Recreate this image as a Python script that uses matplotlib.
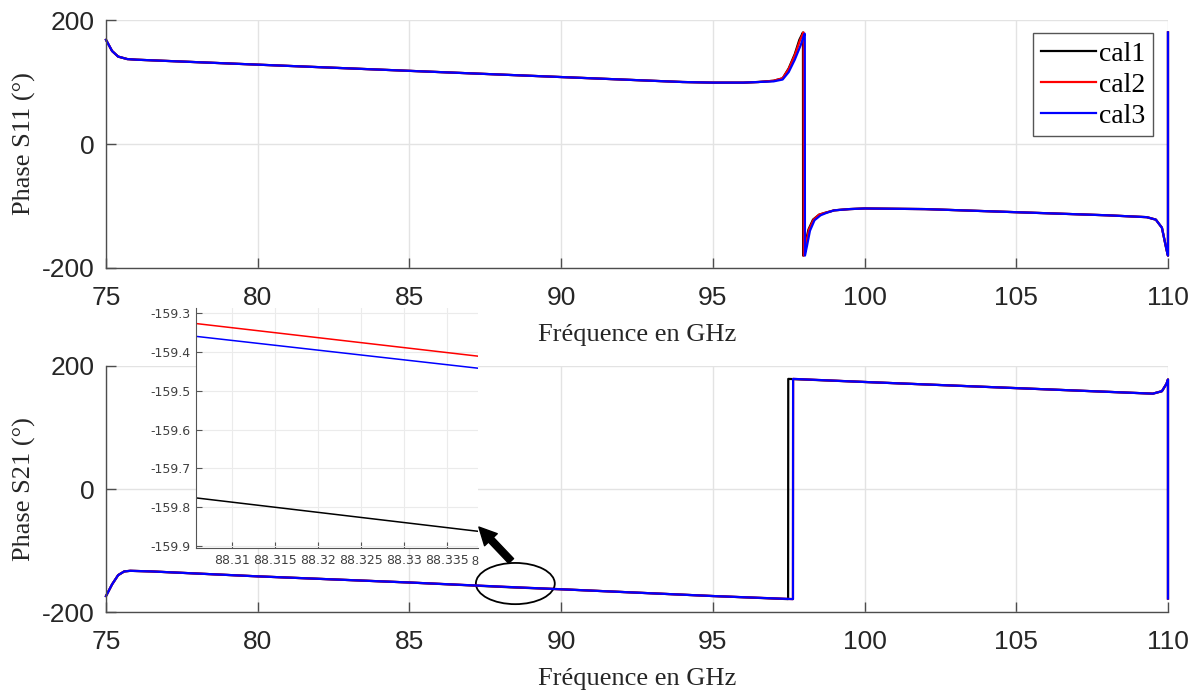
import matplotlib
matplotlib.use("Agg")
from matplotlib import pyplot as plt
from matplotlib.patches import Ellipse, FancyArrowPatch

plt.rcParams["axes.unicode_minus"] = False

## S11 phase, one list per calibration (resonance near 98 GHz)
s11_f_cal1 = [75.0, 75.2, 75.4, 75.7, 76.0, 78, 80, 82, 85, 88, 90, 92, 94, 95, 96, 96.5, 97.0, 97.3,
              97.5, 97.7, 97.85, 97.95, 97.97, 97.975, 98.05, 98.15, 98.3, 98.5, 98.7, 99.0, 99.5,
              100, 102, 105, 108, 109.3, 109.6, 109.8, 109.95, 110.0, 110.0]
s11_cal1 = [168, 150, 141, 137, 136, 132, 128, 124, 118, 112, 108, 104, 100, 99, 99, 100, 102, 106,
            122, 145, 168, 178, 180, -180, -160, -138, -122, -114, -111, -107, -105,
            -104, -105, -110, -115, -118, -122, -135, -170, -180, 180]

s11_f_cal2 = [75.0, 75.2, 75.4, 75.7, 76.0, 78, 80, 82, 85, 88, 90, 92, 94, 95, 96, 96.5, 97.0, 97.3,
              97.5, 97.7, 97.87, 97.97, 97.99, 97.995, 98.07, 98.17, 98.32, 98.5, 98.7, 99.0, 99.5,
              100, 102, 105, 108, 109.3, 109.6, 109.8, 109.95, 110.0, 110.0]
s11_cal2 = [168, 150, 141, 137, 136, 132, 128, 124, 118, 112, 108, 104, 100, 99, 99, 100, 102, 106,
            121, 143, 167, 178, 180, -180, -160, -138, -122, -114, -111, -107, -105,
            -104, -105, -110, -115, -118, -122, -135, -170, -180, 180]

s11_f_cal3 = [75.0, 75.2, 75.4, 75.7, 76.0, 78, 80, 82, 85, 88, 90, 92, 94, 95, 96, 96.5, 97.0, 97.3,
              97.5, 97.7, 97.9, 98.0, 98.03, 98.035, 98.1, 98.2, 98.35, 98.55, 98.75, 99.0, 99.5,
              100, 102, 105, 108, 109.3, 109.6, 109.8, 109.95, 110.0, 110.0]
s11_cal3 = [168, 150, 141, 137, 136, 132, 128, 124, 118, 112, 108, 104, 100, 99, 99, 100, 101, 104,
            116, 136, 160, 175, 178, -180, -165, -140, -123, -115, -111, -107, -105,
            -104, -105, -110, -115, -118, -122, -135, -170, -180, 180]

## S21 phase
s21_f_cal1 = [75.0, 75.2, 75.4, 75.6, 75.8, 76.5, 80, 85, 88.32, 90, 95, 97.48, 97.485,
              100, 105, 109.0, 109.5, 109.8, 109.95, 110.0, 110.0]
s21_f_cal23 = [75.0, 75.2, 75.4, 75.6, 75.8, 76.5, 80, 85, 88.32, 90, 95, 97.64, 97.645,
               100, 105, 109.0, 109.5, 109.8, 109.95, 110.0, 110.0]
s21_cal1 = [-174, -155, -140, -134, -133, -134, -142, -152, -159.8, -163, -174, -179, 179,
            174, 164, 156, 155, 159, 171, 178, -178]
s21_cal2 = [-174, -155, -140, -134, -133, -134, -142, -152, -159.4, -163, -174, -179, 179,
            174, 164, 156, 155, 159, 171, 178, -178]
s21_cal3 = [-174, -155, -140, -134, -133, -134, -142, -152, -159.4, -163, -174, -179, 179,
            174, 164, 156, 155, 159, 171, 178, -178]

## zoomed inset
inset_f = [88.3058, 88.3386]
inset_cal1 = [-159.776, -159.862]
inset_cal2 = [-159.327, -159.411]
inset_cal3 = [-159.360, -159.442]
inset_xticks = [88.31, 88.315, 88.32, 88.325, 88.33, 88.335]
inset_xticklabels = ["88.31", "88.315", "88.32", "88.325", "88.33", "88.335"]
inset_yticks = [-159.9, -159.8, -159.7, -159.6, -159.5, -159.4, -159.3]

freq_ticks = [75, 80, 85, 90, 95, 100, 105, 110]
phase_ticks = [-200, 0, 200]

serif = "Liberation Serif"
sans = "Liberation Sans"
grid_col = "#e3e3e3"
axis_col = "#262626"

fig = plt.figure(figsize=(12.02, 6.9), dpi=100)
ax1 = fig.add_axes([0.0882, 0.6116, 0.8835, 0.3594])
ax2 = fig.add_axes([0.0882, 0.1130, 0.8835, 0.3566])


def style_axes(ax, ylabel, xlab_y):
    ax.set_xlim(75, 110)
    ax.set_ylim(-200, 200)
    ax.set_xticks(freq_ticks)
    ax.set_yticks(phase_ticks)
    ax.grid(True, color=grid_col, linewidth=1.0)
    ax.set_axisbelow(True)
    for s in ["top", "right"]:
        ax.spines[s].set_visible(False)
    for s in ["left", "bottom"]:
        ax.spines[s].set_color("#4d4d4d")
        ax.spines[s].set_linewidth(1.0)
    ax.tick_params(direction="in", length=7, width=1.0, colors="#4d4d4d",
                   labelcolor=axis_col, labelsize=19)
    ax.tick_params(axis="x", pad=13)
    ax.tick_params(axis="y", pad=8)
    for lab in ax.get_xticklabels() + ax.get_yticklabels():
        lab.set_fontfamily(sans)
    ax.set_xlabel("Fréquence en GHz", fontsize=19, family=serif, color=axis_col, va="baseline")
    ax.set_ylabel(ylabel, fontsize=19, family=serif, color=axis_col)
    ax.xaxis.set_label_coords(0.5, xlab_y)
    ax.yaxis.set_label_coords(-0.066, 0.5)


ax1.plot(s11_f_cal1, s11_cal1, color="black", lw=1.6, label="cal1", clip_on=False)
ax1.plot(s11_f_cal2, s11_cal2, color="red", lw=1.6, label="cal2", clip_on=False)
ax1.plot(s11_f_cal3, s11_cal3, color="blue", lw=1.6, label="cal3", clip_on=False)
style_axes(ax1, "Phase S11 (°)", -0.294)
leg = ax1.legend(loc="upper right", bbox_to_anchor=(0.9859, 0.946), prop={"family": serif, "size": 20},
                 handlelength=2.0, handletextpad=0.1, labelspacing=0.2, borderpad=0.28,
                 borderaxespad=0, fancybox=False, framealpha=1)
leg.get_frame().set_edgecolor("#555555")
leg.get_frame().set_linewidth(1.0)

ax2.plot(s21_f_cal1, s21_cal1, color="black", lw=1.6, clip_on=False)
ax2.plot(s21_f_cal23, s21_cal2, color="red", lw=1.6, clip_on=False)
ax2.plot(s21_f_cal23, s21_cal3, color="blue", lw=1.6, clip_on=False)
style_axes(ax2, "Phase S21 (°)", -0.2967)
ax2.add_patch(Ellipse((88.49, -153.7), 2.6, 67, fill=False, edgecolor="black", lw=1.3))

## inset
axi = fig.add_axes([0.1631, 0.2058, 0.2346, 0.3478])
axi.plot(inset_f, inset_cal1, color="black", lw=1.1)
axi.plot(inset_f, inset_cal2, color="red", lw=1.1)
axi.plot(inset_f, inset_cal3, color="blue", lw=1.1)
axi.set_xlim(inset_f[0], inset_f[1])
axi.set_ylim(-159.905, -159.287)
axi.set_xticks(inset_xticks)
axi.set_xticklabels(inset_xticklabels)
axi.set_yticks(inset_yticks)
axi.grid(True, color="#ebebeb", linewidth=0.8)
for s in ["top", "right"]:
    axi.spines[s].set_visible(False)
for s in ["left", "bottom"]:
    axi.spines[s].set_color("#555555")
    axi.spines[s].set_linewidth(0.8)
axi.tick_params(direction="in", length=4, width=0.8, colors="#555555",
                labelcolor="#404040", labelsize=9, pad=4)
axi.text(1.0, -0.035, "8", transform=axi.transAxes, ha="right", va="top",
         fontsize=9, color="#404040", family=sans)

## arrow from the ellipse to the inset
arrow = FancyArrowPatch((0.4268, 0.1841), (0.3968, 0.2391), transform=fig.transFigure,
                        arrowstyle="simple,head_length=0.9,head_width=0.9,tail_width=0.35",
                        mutation_scale=14, color="black", zorder=10)
fig.patches.append(arrow)

fig.savefig("out.png", dpi=100)
